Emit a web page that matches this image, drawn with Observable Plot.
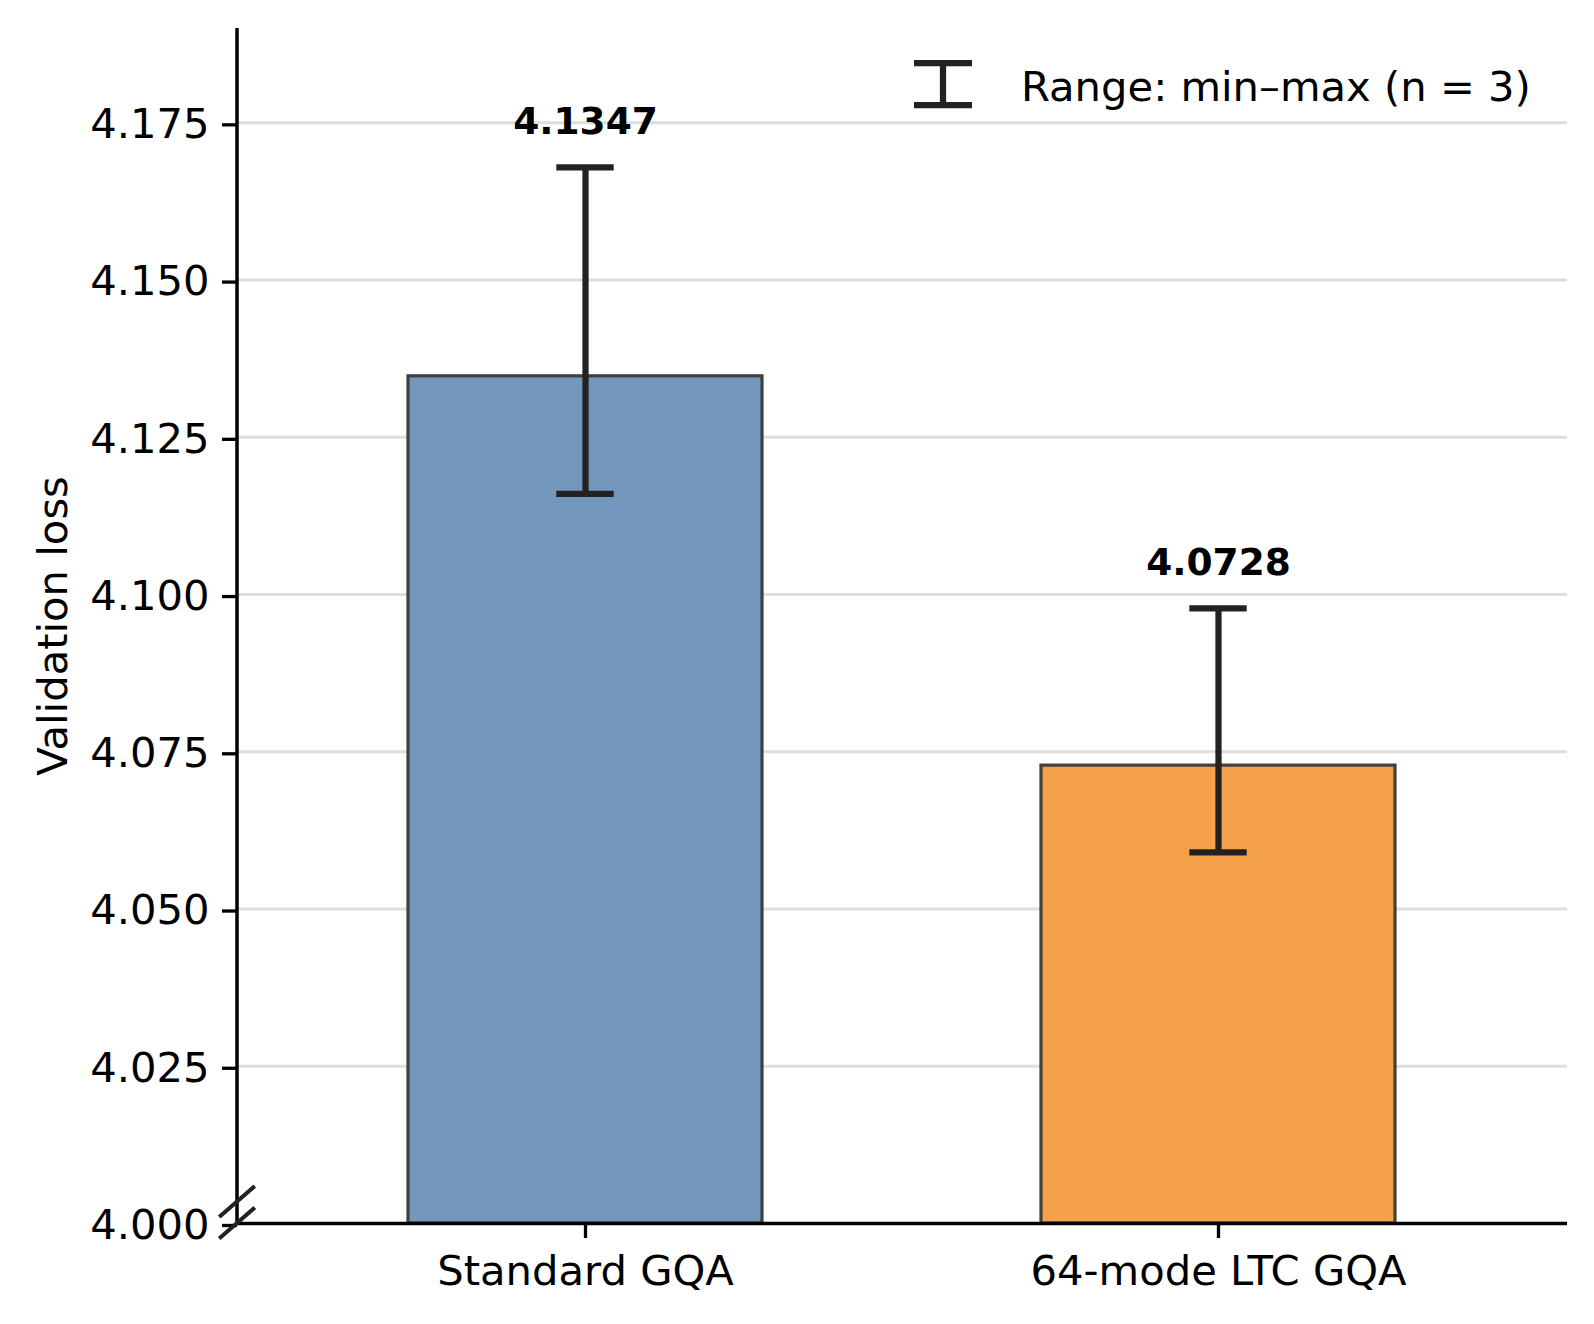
<!DOCTYPE html>
<html><head><meta charset="utf-8">
<script src="https://cdn.jsdelivr.net/npm/d3@7"></script>
<script src="https://cdn.jsdelivr.net/npm/@observablehq/plot@0.6"></script>
<style>
html,body{margin:0;padding:0;background:#fff;}
#chart svg{display:block;}
</style></head><body><div id="chart"></div>
<script>
const models = ["Standard GQA", "64-mode LTC GQA"];
const means = [4.1347, 4.0728];
const mins = [4.1160, 4.0590];
const maxs = [4.1679, 4.0978];
const barColors = ["#7396bc", "#f5a14a"];
const yTicks = [4.000, 4.025, 4.050, 4.075, 4.100, 4.125, 4.150, 4.175];
const gridTicks = yTicks.slice(1);
const yDomain = [4.0, 4.19];
const yLabel = "Validation loss";
const legendLabel = "Range: min–max (n = 3)";

const data = models.map((m, i) => ({model: m, mean: means[i], min: mins[i], max: maxs[i], color: barColors[i]}));

const W = 1594, H = 1324;
const mL = 237, mR = 27, mT = 28, mB = 101;
const font = "'DejaVu Sans', sans-serif";
const errColor = "#222222";

const chart = Plot.plot({
  width: W, height: H,
  marginLeft: mL, marginRight: mR, marginTop: mT, marginBottom: mB,
  style: {fontFamily: font, fontSize: "41.7px", color: "#000", background: "#fff", overflow: "visible"},
  x: {type: "band", domain: models, paddingInner: 0.44, paddingOuter: 0.27},
  y: {domain: yDomain},
  color: {type: "identity"},
  marks: [
    Plot.ruleY(gridTicks, {stroke: "#dedede", strokeWidth: 3}),
    Plot.barY(data, {x: "model", y1: yDomain[0], y2: "mean", fill: "color", stroke: "#404040", strokeWidth: 3.2}),
    Plot.ruleX(data, {x: "model", y1: "min", y2: "max", stroke: errColor, strokeWidth: 6.25}),
    Plot.tickY(data, {x: "model", y: "min", stroke: errColor, strokeWidth: 6.25, insetLeft: 148.3, insetRight: 148.3}),
    Plot.tickY(data, {x: "model", y: "max", stroke: errColor, strokeWidth: 6.25, insetLeft: 148.3, insetRight: 148.3}),
    Plot.text(data, {x: "model", y: "max", text: d => d.mean.toFixed(4), dy: -33, lineAnchor: "bottom", fontWeight: "bold", fontSize: 37.5, fill: "#000"}),
    Plot.axisY({ticks: yTicks, tickFormat: d3.format(".3f"), tickSize: 15, tickPadding: 13, strokeWidth: 3.3, stroke: "#000", label: null, dy: 2}),
    Plot.axisX({tickSize: 15, tickPadding: 17, strokeWidth: 3.3, stroke: "#000", label: null}),
    Plot.ruleY([yDomain[0]], {stroke: "#000", strokeWidth: 3.5}),
    Plot.text([yLabel], {frameAnchor: "left", dx: -171, rotate: -90, lineAnchor: "bottom", textAnchor: "middle", fontSize: 41.7, fill: "#000"})
  ]
});
document.getElementById("chart").append(chart);

const svg = d3.select(chart);
const ys = chart.scale("y");
const y0 = ys.apply(yDomain[0]), yTop = ys.apply(yDomain[1]);
// left spine
svg.append("line").attr("x1", mL).attr("x2", mL).attr("y1", yTop).attr("y2", y0 + 1.75)
  .attr("stroke", "#000").attr("stroke-width", 3.5);
// axis break marks
const bx = 17.8, by = 15.4;
[y0 - 21.5, y0].forEach(cy => {
  svg.append("line").attr("x1", mL - bx).attr("y1", cy + by).attr("x2", mL + bx).attr("y2", cy - by)
    .attr("stroke", errColor).attr("stroke-width", 4);
});
// legend
const lg = svg.append("g");
lg.append("line").attr("x1", 943).attr("x2", 943).attr("y1", 63).attr("y2", 105).attr("stroke", errColor).attr("stroke-width", 6.25);
lg.append("line").attr("x1", 914).attr("x2", 972).attr("y1", 63).attr("y2", 63).attr("stroke", errColor).attr("stroke-width", 6.25);
lg.append("line").attr("x1", 914).attr("x2", 972).attr("y1", 105).attr("y2", 105).attr("stroke", errColor).attr("stroke-width", 6.25);
lg.append("text").attr("x", 1021).attr("y", 101).attr("text-anchor", "start").attr("font-family", font).attr("font-size", 41.7).attr("fill", "#000").text(legendLabel);
</script>
</body></html>
